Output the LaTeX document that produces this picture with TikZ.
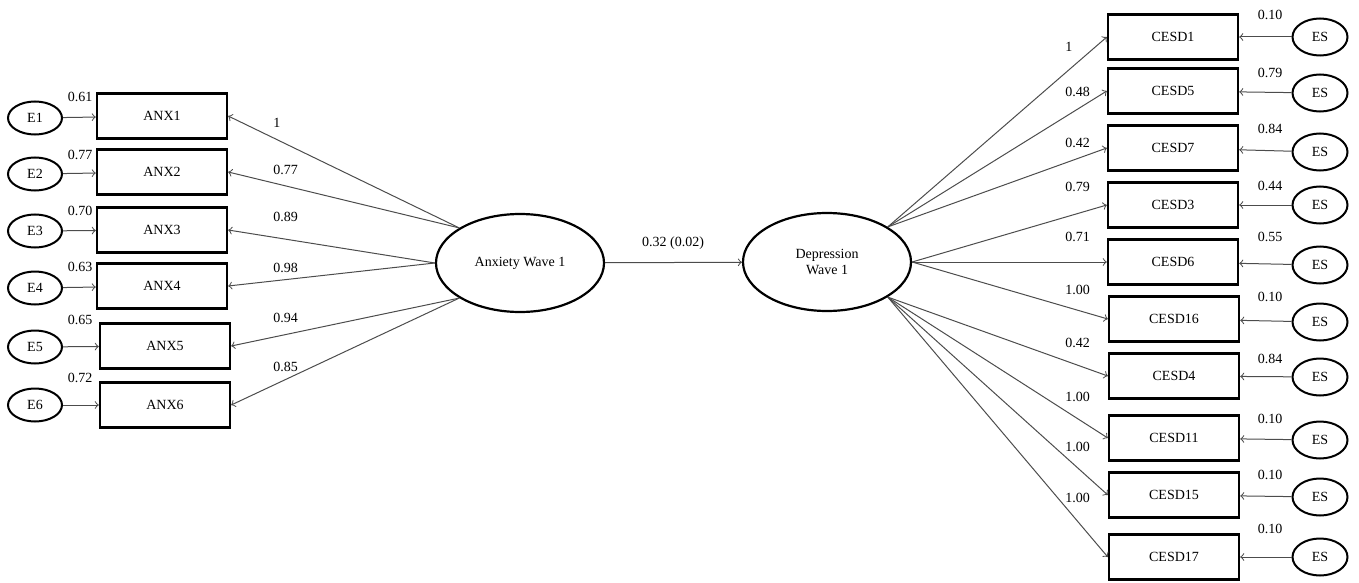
\documentclass[tikz,border=0pt]{standalone}
\usepackage{fontspec}
\setmainfont{Liberation Serif}
\usetikzlibrary{shapes.geometric}

\begin{document}
\begin{tikzpicture}[x=0.5pt, y=-0.5pt, font=\fontsize{7}{8.4}\selectfont,
  obs/.style={draw, line width=1.2pt, minimum width=65pt, minimum height=22.5pt, inner sep=0pt},
  lat/.style={draw, ellipse, line width=1.1pt, minimum width=84pt, minimum height=49pt, inner sep=0pt, align=center},
  err/.style={draw, ellipse, line width=1pt, minimum width=27pt, minimum height=16.5pt, inner sep=0pt},
  errr/.style={err, minimum width=27.5pt, minimum height=18.5pt},
  lnk/.style={->, draw=black!70, line width=0.5pt},
  val/.style={inner sep=0pt}]
\useasboundingbox (0,0) rectangle (1359,583);

% latent variables
\node[lat] (anx) at (520,263) {Anxiety Wave 1};
\node[lat] (dep) at (827,262) {Depression\\Wave 1};
\draw[lnk] (anx) -- (dep);
\node[val] (reg) at (673,243) {0.32 (0.02)};

% anxiety indicators
\node[obs] (anx1) at (162,116) {ANX1};
\node[obs] (anx2) at (162,172) {ANX2};
\node[obs] (anx3) at (162,230) {ANX3};
\node[obs] (anx4) at (162,286) {ANX4};
\node[obs] (anx5) at (165,346) {ANX5};
\node[obs] (anx6) at (165,405) {ANX6};

\node[err] (e1) at (35,118) {E1};
\node[err] (e2) at (35,174) {E2};
\node[err] (e3) at (35,231) {E3};
\node[err] (e4) at (35,288) {E4};
\node[err] (e5) at (35,347) {E5};
\node[err] (e6) at (35,405) {E6};

\draw[lnk] (e1) -- (anx1);
\draw[lnk] (e2) -- (anx2);
\draw[lnk] (e3) -- (anx3);
\draw[lnk] (e4) -- (anx4);
\draw[lnk] (e5) -- (anx5);
\draw[lnk] (e6) -- (anx6);

\node[val] (v1) at (80,97) {0.61};
\node[val] (v2) at (80,155) {0.77};
\node[val] (v3) at (80,211) {0.70};
\node[val] (v4) at (80,267) {0.63};
\node[val] (v5) at (80,320) {0.65};
\node[val] (v6) at (80,378) {0.72};

\draw[lnk] (anx.150) -- (anx1.east);
\draw[lnk] (anx.150) -- (anx2.east);
\draw[lnk] (anx.west) -- (anx3.east);
\draw[lnk] (anx.west) -- (anx4.east);
\draw[lnk] (anx.210) -- (anx5.east);
\draw[lnk] (anx.210) -- (anx6.east);

\node[val, anchor=west] (l1) at (273,123) {1};
\node[val, anchor=west] (l2) at (273,170) {0.77};
\node[val, anchor=west] (l3) at (273,217) {0.89};
\node[val, anchor=west] (l4) at (273,268) {0.98};
\node[val, anchor=west] (l5) at (273,318) {0.94};
\node[val, anchor=west] (l6) at (273,367) {0.85};

% depression indicators
\node[obs] (c1) at (1173,37) {CESD1};
\node[obs] (c5) at (1173,91) {CESD5};
\node[obs] (c7) at (1173,148) {CESD7};
\node[obs] (c3) at (1173,205) {CESD3};
\node[obs] (c6) at (1173,262) {CESD6};
\node[obs] (c16) at (1174,319) {CESD16};
\node[obs] (c4) at (1174,376) {CESD4};
\node[obs] (c11) at (1174,438) {CESD11};
\node[obs] (c15) at (1174,495) {CESD15};
\node[obs] (c17) at (1174,557) {CESD17};

\node[errr] (s1) at (1320,37) {ES};
\node[errr] (s5) at (1320,93) {ES};
\node[errr] (s7) at (1320,152) {ES};
\node[errr] (s3) at (1320,205) {ES};
\node[errr] (s6) at (1320,265) {ES};
\node[errr] (s16) at (1320,322) {ES};
\node[errr] (s4) at (1320,377) {ES};
\node[errr] (s11) at (1320,440) {ES};
\node[errr] (s15) at (1320,497) {ES};
\node[errr] (s17) at (1320,557) {ES};

\draw[lnk] (s1) -- (c1);
\draw[lnk] (s5) -- (c5);
\draw[lnk] (s7) -- (c7);
\draw[lnk] (s3) -- (c3);
\draw[lnk] (s6) -- (c6);
\draw[lnk] (s16) -- (c16);
\draw[lnk] (s4) -- (c4);
\draw[lnk] (s11) -- (c11);
\draw[lnk] (s15) -- (c15);
\draw[lnk] (s17) -- (c17);

\node[val] (w1) at (1270,15) {0.10};
\node[val] (w5) at (1270,73) {0.79};
\node[val] (w7) at (1270,129) {0.84};
\node[val] (w3) at (1270,186) {0.44};
\node[val] (w6) at (1270,237) {0.55};
\node[val] (w16) at (1270,297) {0.10};
\node[val] (w4) at (1270,359) {0.84};
\node[val] (w11) at (1270,419) {0.10};
\node[val] (w15) at (1270,475) {0.10};
\node[val] (w17) at (1270,529) {0.10};

\draw[lnk] (dep.30) -- (c1.west);
\draw[lnk] (dep.30) -- (c5.west);
\draw[lnk] (dep.30) -- (c7.west);
\draw[lnk] (dep.east) -- (c3.west);
\draw[lnk] (dep.east) -- (c6.west);
\draw[lnk] (dep.east) -- (c16.west);
\draw[lnk] (dep.-30) -- (c4.west);
\draw[lnk] (dep.-30) -- (c11.west);
\draw[lnk] (dep.-30) -- (c15.west);
\draw[lnk] (dep.-30) -- (c17.west);

\node[val, anchor=west] (k1) at (1065,47) {1};
\node[val, anchor=west] (k5) at (1065,92) {0.48};
\node[val, anchor=west] (k7) at (1065,143) {0.42};
\node[val, anchor=west] (k3) at (1065,187) {0.79};
\node[val, anchor=west] (k6) at (1065,237) {0.71};
\node[val, anchor=west] (k16) at (1065,290) {1.00};
\node[val, anchor=west] (k4) at (1065,343) {0.42};
\node[val, anchor=west] (k11) at (1065,397) {1.00};
\node[val, anchor=west] (k15) at (1065,447) {1.00};
\node[val, anchor=west] (k17) at (1065,498) {1.00};
\end{tikzpicture}
\end{document}
